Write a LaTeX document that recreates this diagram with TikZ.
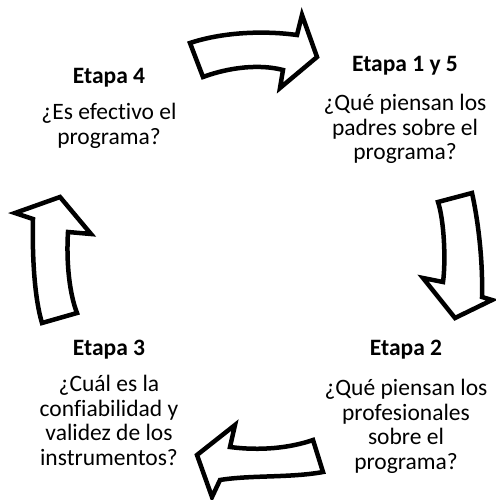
\documentclass[tikz,border=0pt]{standalone}
\usepackage{fontspec}
\setmainfont[Ligatures={NoCommon}]{Carlito}
\usetikzlibrary{positioning}

\begin{document}
\begin{tikzpicture}[
            x=1pt,
            y=-1pt,
            stage/.style={font=\fontsize{23.5}{24.5}\selectfont\bfseries, anchor=base, inner sep=0pt},
            question/.style={font=\fontsize{23.5}{24.5}\selectfont, align=center, anchor=north, inner sep=0pt},
            blockarrow/.style={draw=black, fill=white, line width=4.5pt, line join=miter},
        ]
            \useasboundingbox (0,0) rectangle (495,500);

            % Draw the stage titles
            \foreach \name / \x / \y / \title in {S1/405/72/{Etapa 1 y 5}, S2/406/355/{Etapa 2}, S3/109/355/{Etapa 3}, S4/109/84/{Etapa 4}}
                \node[stage] (\name) at (\x,\y) {\title};

            % Draw the questions under each title
            \node[question] (Q1) at (405,94) {¿Qué piensan los\\padres sobre el\\programa?};
            \node[question] (Q2) at (406,379) {¿Qué piensan los\\profesionales\\sobre el\\programa?};
            \node[question] (Q3) at (109,375) {¿Cuál es la\\confiabilidad y\\validez de los\\instrumentos?};
            \node[question] (Q4) at (109,103) {¿Es efectivo el\\programa?};

            % Draw the block arrows of the cycle
            \draw[blockarrow] (190,43) -- (203,77) .. controls (230,67) and (260,64) .. (283,70)
                -- (280,88) -- (317,57) -- (302,15) -- (297,35)
                .. controls (260,30) and (220,33) .. cycle;
            \draw[blockarrow] (438,202) -- (472,193) .. controls (478,220) and (483,260) .. (482,297)
                -- (492,300) -- (455,318) -- (423,278) -- (443,282)
                .. controls (446,260) and (444,220) .. cycle;
            \draw[blockarrow] (313,440) -- (323,472) .. controls (290,478) and (250,475) .. (220,480)
                -- (212,497) -- (197,455) -- (235,425) -- (230,447)
                .. controls (260,451) and (290,448) .. cycle;
            \draw[blockarrow] (60,197) -- (91,234) -- (68,232) .. controls (66,265) and (70,295) .. (77,313)
                -- (42,323) .. controls (35,300) and (32,260) .. (33,219)
                -- (15,213) -- cycle;
        \end{tikzpicture}
\end{document}
